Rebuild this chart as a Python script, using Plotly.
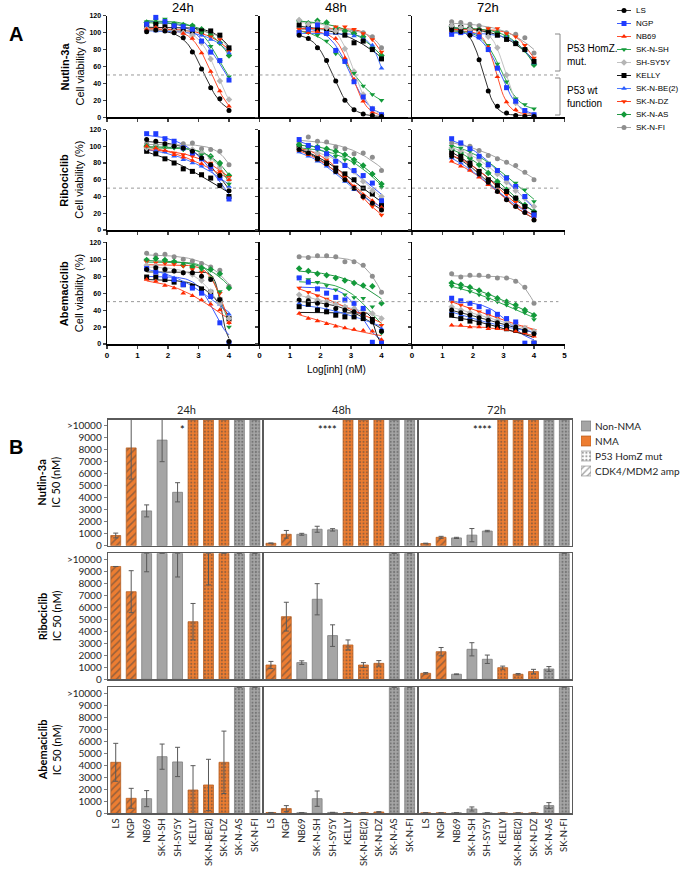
import numpy as np
import plotly.graph_objects as go

W, H = 685, 877
def px(x): return x / W
def py(y): return 1 - y / H

# ---------------- data ----------------
LOG_CONC = [1.3, 1.6, 1.9, 2.2, 2.5, 2.8, 3.1, 3.4, 3.7, 4.0]
CELLS = ['LS', 'NGP', 'NB69', 'SK-N-SH', 'SH-SY5Y', 'KELLY', 'SK-N-BE(2)', 'SK-N-DZ', 'SK-N-AS', 'SK-N-FI']
DRUGS = ['Nutlin-3a', 'Ribociclib', 'Abemaciclib']
TIMES = ['24h', '48h', '72h']
NMA = [1, 1, 0, 0, 0, 1, 1, 1, 0, 0]
GENO = ['amp', 'amp', '', '', '', 'mut', 'mut', 'mut', 'mut', 'mut']

# cell viability (%) rows follow CELLS, columns follow LOG_CONC
NUT_24 = [[101,103,102,100,94,77,57,35,22,8],[110,118,113,108,107,104,90,77,67,44],[104,106,103,101,99,93,76,54,31,13],
          [113,115,116,111,109,108,100,84,66,48],[105,104,103,102,100,97,88,69,43,21],[108,110,107,106,103,102,102,102,97,82],
          [103,102,102,101,100,99,97,92,88,76],[107,104,105,103,102,100,98,95,92,78],[112,111,113,110,109,108,104,97,88,73],
          [104,103,104,103,102,101,101,99,95,80]]
NUT_48 = [[97,93,82,67,43,20,9,4,2,1],[100,104,109,99,79,66,42,24,10,3],[102,100,101,98,93,70,45,19,6,2],
          [101,100,97,90,75,66,52,37,27,20],[115,110,111,106,102,81,54,27,10,3],[109,106,104,102,101,97,88,90,80,69],
          [100,101,100,99,99,97,96,92,85,58],[104,103,105,104,107,107,104,99,92,77],[114,111,114,112,105,102,99,95,82,73],
          [106,104,103,104,103,102,101,100,95,82]]
NUT_72 = [[103,101,97,68,31,13,5,2,1,1],[98,100,99,95,80,58,35,19,8,3],[102,101,100,99,83,48,18,9,4,2],
          [103,101,99,95,85,63,42,22,15,10],[108,106,104,100,95,82,50,17,6,3],[107,106,104,102,100,97,92,87,80,66],
          [100,100,99,99,98,96,94,88,80,64],[103,102,104,103,105,105,99,95,85,70],[107,106,105,103,102,100,96,88,80,62],
          [113,112,110,108,104,101,100,98,94,76]]
RIB_24 = [[108,106,103,100,98,94,86,78,65,47],[115,115,109,106,98,92,85,76,62,37],[100,98,95,90,87,83,79,74,68,60],
          [100,99,99,98,96,94,90,87,78,55],[98,100,100,99,98,96,92,86,75,60],[94,91,85,80,73,70,66,62,53,40],
          [96,95,93,88,84,80,76,72,64,52],[97,96,94,92,90,88,85,80,70,63],[100,100,99,99,97,95,92,88,80,65],
          [103,102,101,102,103,104,97,96,94,78]]
RIB_48 = [[96,92,85,79,70,60,50,40,32,24],[108,101,98,91,82,77,71,65,56,35],[95,90,84,78,70,62,52,42,35,27],
          [100,98,96,92,88,84,80,76,66,51],[97,95,92,88,83,78,70,58,47,40],[98,93,85,80,74,67,60,50,43,30],
          [93,88,82,76,68,58,48,40,33,28],[98,95,90,84,75,63,52,38,28,18],[102,100,99,97,94,90,84,77,67,55],
          [104,111,106,105,99,97,91,92,87,71]]
RIB_72 = [[88,84,77,67,57,46,36,28,21,12],[109,104,97,88,78,71,62,52,40,18],[82,76,71,63,54,46,36,28,21,13],
          [100,98,94,88,80,72,64,56,48,34],[98,95,90,84,76,67,57,47,38,28],[92,88,80,70,60,53,46,38,28,20],
          [86,80,72,64,55,46,38,30,23,16],[90,85,78,70,61,51,42,33,25,15],[96,92,86,78,68,58,48,38,30,22],
          [104,103,100,95,89,85,81,77,69,60]]
ABE_24 = [[88,90,88,86,84,84,80,76,52,3],[89,85,80,76,70,66,60,56,25,1],[76,74,69,66,60,57,52,47,40,25],
          [99,100,98,97,95,92,88,78,62,20],[93,92,89,86,84,82,75,62,48,30],[79,79,76,73,70,68,65,61,52,30],
          [90,86,82,78,72,68,62,56,47,35],[97,96,95,94,92,88,85,78,60,25],[99,101,99,97,93,91,90,88,83,66],
          [107,105,106,103,100,98,95,91,87,68]]
ABE_48 = [[52,51,48,46,42,40,38,35,26,15],[78,73,65,60,55,52,48,42,2,1],[36,30,27,24,21,19,17,16,15,5],
          [78,76,73,69,64,58,55,54,44,13],[58,55,52,50,47,44,42,40,36,30],[44,47,40,38,34,32,32,30,29,1],
          [48,45,42,40,38,35,33,31,27,18],[66,61,57,53,48,44,40,36,30,22],[89,86,83,81,78,75,72,69,68,48],
          [103,102,104,104,103,97,97,93,80,61]]
ABE_72 = [[40,37,34,31,28,25,22,20,16,12],[54,51,48,44,38,35,30,26,1,1],[22,22,20,20,18,18,17,15,13,9],
          [68,66,62,58,53,50,46,42,37,29],[44,40,37,34,31,28,25,22,19,15],[34,30,27,25,22,20,18,16,15,1],
          [38,34,31,28,25,23,20,18,16,14],[50,46,42,38,34,31,28,24,20,16],[72,70,67,63,58,54,50,46,40,34],
          [83,79,81,81,80,78,78,74,67,48]]

# IC50 (nM); None = ">10000"
NUT_IC50_24 = [850, 8150, 2900, 8800, 4450, None, None, None, None, None]
NUT_ERR_24 = [200, 2600, 500, 1800, 800, 0, 0, 0, 0, 0]
NUT_IC50_48 = [200, 950, 950, 1370, 1320, None, None, None, None, None]
NUT_ERR_48 = [30, 320, 80, 250, 100, 0, 0, 0, 0, 0]
NUT_IC50_72 = [180, 700, 650, 880, 1220, None, None, None, None, None]
NUT_ERR_72 = [30, 80, 50, 550, 60, 0, 0, 0, 0, 0]
RIB_IC50_24 = [9400, 7300, None, None, None, 4800, None, None, None, None]
RIB_ERR_24 = [0, 1750, 1540, 0, 1975, 1520, 2640, 0, 0, 0]
RIB_IC50_48 = [1190, 5220, 1390, 6670, 3640, 2860, 1190, 1330, None, None]
RIB_ERR_48 = [300, 1200, 150, 1300, 900, 420, 200, 230, 0, 0]
RIB_IC50_72 = [500, 2300, 420, 2500, 1670, 970, 420, 640, 860, None]
RIB_ERR_72 = [60, 350, 30, 550, 350, 130, 60, 190, 200, 0]
ABE_IC50_24 = [4250, 1250, 1220, 4720, 4280, 1940, 2360, 4250, None, None]
ABE_ERR_24 = [1580, 830, 670, 1050, 1220, 2030, 2140, 2600, 0, 0]
ABE_IC50_48 = [60, 390, 50, 1220, 70, 50, 50, 110, None, None]
ABE_ERR_48 = [10, 250, 10, 640, 10, 10, 10, 30, 0, 0]
ABE_IC50_72 = [40, 40, 40, 360, 30, 30, 30, 30, 640, None]
ABE_ERR_72 = [10, 10, 10, 170, 10, 10, 10, 10, 250, 0]

B_YTICKS = [0, 1000, 2000, 3000, 4000, 5000, 6000, 7000, 8000, 9000, 10000]
B_YTEXT = ['0', '1000', '2000', '3000', '4000', '5000', '6000', '7000', '8000', '9000', '>10000']
STARS = {(0, 0): '*', (0, 1): '****', (0, 2): '****'}
LEG_B = ['Non-NMA', 'NMA', 'P53 HomZ mut', 'CDK4/MDM2 amp']

VIAB = [[NUT_24, NUT_48, NUT_72], [RIB_24, RIB_48, RIB_72], [ABE_24, ABE_48, ABE_72]]
IC50 = [[(NUT_IC50_24, NUT_ERR_24), (NUT_IC50_48, NUT_ERR_48), (NUT_IC50_72, NUT_ERR_72)],
        [(RIB_IC50_24, RIB_ERR_24), (RIB_IC50_48, RIB_ERR_48), (RIB_IC50_72, RIB_ERR_72)],
        [(ABE_IC50_24, ABE_ERR_24), (ABE_IC50_48, ABE_ERR_48), (ABE_IC50_72, ABE_ERR_72)]]

# ---------------- styles ----------------
COLORS = ['#000000', '#1f3cff', '#ff2a00', '#139a3a', '#b5b5b5', '#000000', '#2a5cff', '#ff3300', '#139a3a', '#8e8e8e']
LCOLORS = ['#333333', '#3b5bff', '#ff5030', '#2fa850', '#c2c2c2', '#1a1a1a', '#4a78ff', '#ff4020', '#249845', '#a5a5a5']
SYMBOLS = ['circle', 'square', 'triangle-up', 'triangle-down', 'diamond', 'square', 'triangle-up', 'triangle-down', 'diamond', 'circle']
FA = 'Liberation Sans, Arial, sans-serif'
FB = 'Lato, Open Sans, sans-serif'
A_COLX = [(107, 259.5), (259.5, 412), (412, 564.5)]
A_ROWY = [(15.7, 117.3), (129.5, 230), (242.3, 344)]
B_COLX = [(108, 262.6), (263.2, 417.4), (418.0, 572)]
B_ROWY = [(419.7, 545.7), (553.3, 679.3), (687.3, 813.3)]
OVER_CAP = 10500

# ---------------- 4-parameter logistic fit (least squares grid) ----------------
_cg = np.arange(0.5, 8.0, 0.02)
_hg = np.arange(0.2, 6.0, 0.05)
_C, _Hh = [g.ravel()[:, None] for g in np.meshgrid(_cg, _hg)]
_X = np.asarray(LOG_CONC)[None, :]
_S = 1.0 / (1.0 + 10.0 ** ((_X - _C) * _Hh))
_Sm = _S.mean(axis=1)
_dS = _S - _Sm[:, None]
_Svar = (_dS ** 2).sum(axis=1)
_SS = (_S * _S).sum(axis=1)

def fit_curve(y):
    y = np.asarray(y, float)
    ym = y.mean()
    a = (_dS * (y - ym)).sum(1) / np.maximum(_Svar, 1e-12)
    b = ym - a * _Sm
    a0 = (_S * y).sum(1) / np.maximum(_SS, 1e-12)
    neg = b < 0
    a = np.where(neg, a0, a)
    b = np.where(neg, 0.0, b)
    sse = (((b[:, None] + a[:, None] * _S) - y) ** 2).sum(1)
    k = int(np.argmin(sse))
    xs = np.linspace(LOG_CONC[0], LOG_CONC[-1], 60)
    ys = b[k] + a[k] / (1 + 10 ** ((xs - _C[k, 0]) * _Hh[k, 0]))
    return xs, ys

fig = go.Figure()
layout = {}
annotations = []
shapes = []

def ann(text, x, y, size, family, color='black', angle=0, xanchor='center', yref='paper', align='center'):
    annotations.append(dict(text=text, x=px(x), y=(py(y) if yref == 'paper' else y), xref='paper', yref=yref,
                            xanchor=xanchor, yanchor='middle', textangle=angle, showarrow=False, align=align,
                            font=dict(family=family, size=size, color=color)))

def axn(k):
    return '' if k == 1 else str(k)

# ---------------- panel A ----------------
for r in range(3):
    for c in range(3):
        k = r * 3 + c + 1
        s = axn(k)
        tv = [0, 1, 2, 3, 4, 5] if c == 2 else [0, 1, 2, 3, 4]
        layout['xaxis' + s] = dict(domain=[px(A_COLX[c][0]), px(A_COLX[c][1])], anchor='y' + s, range=[0, 5],
                                   showline=True, linecolor='black', linewidth=1.5, ticks='outside', ticklen=3,
                                   tickwidth=1.2, tickvals=tv, showticklabels=(r == 2), showgrid=False, zeroline=False,
                                   automargin=False, tickfont=dict(family=FA, size=8, color='black', weight='bold'))
        layout['yaxis' + s] = dict(domain=[py(A_ROWY[r][1]), py(A_ROWY[r][0])], anchor='x' + s, range=[0, 120],
                                   showline=True, linecolor='black', linewidth=1.5, ticks='outside', ticklen=3,
                                   tickwidth=1.2, tickvals=[0, 20, 40, 60, 80, 100, 120], showticklabels=(c == 0),
                                   showgrid=False, zeroline=False, automargin=False,
                                   tickfont=dict(family=FA, size=7, color='black', weight='bold'))
        shapes.append(dict(type='line', xref='x' + s, yref='y' + s, x0=0, x1=4.8, y0=50, y1=50,
                           line=dict(color='#9a9a9a', width=1, dash='dot')))
        data = VIAB[r][c]
        for i in range(len(CELLS)):
            xs, ys = fit_curve(data[i])
            fig.add_trace(go.Scatter(x=xs, y=ys, mode='lines', line=dict(color=LCOLORS[i], width=1),
                                     xaxis='x' + s, yaxis='y' + s, showlegend=False, hoverinfo='skip'))
        for i in reversed(range(len(CELLS))):
            fig.add_trace(go.Scatter(x=LOG_CONC, y=data[i], mode='markers', cliponaxis=False,
                                     marker=dict(symbol=SYMBOLS[i], size=5, color=COLORS[i]),
                                     xaxis='x' + s, yaxis='y' + s, showlegend=False, name=CELLS[i]))
    yc = (A_ROWY[r][0] + A_ROWY[r][1]) / 2
    ann('<b>' + DRUGS[r] + '</b>', 64, yc, 11, FA, angle=-90)
    ann('Cell viability (%)', 79, yc, 11, FA, angle=-90)

for c in range(3):
    ann(TIMES[c], (A_COLX[c][0] + A_COLX[c][1]) / 2, 8, 13, FA)
ann('Log[inh] (nM)', 336, 369, 10, FA)
ann('<b>A</b>', 16, 34, 20, FA)
ann('<b>B</b>', 16, 447, 20, FA)

# P53 brackets
for (y0, y1, txt, ty) in [(34, 71, 'P53 HomZ.<br>mut.', 55), (78, 115, 'P53 wt<br>function', 97)]:
    for seg in [(560, y0, 560, y1), (555, y0, 560, y0), (555, y1, 560, y1)]:
        shapes.append(dict(type='line', xref='paper', yref='paper', x0=px(seg[0]), y0=py(seg[1]),
                           x1=px(seg[2]), y1=py(seg[3]), line=dict(color='#888888', width=1)))
    ann(txt, 565, ty, 10, FA, xanchor='left', align='left')

# legend A (manual)
layout['xaxis20'] = dict(domain=[px(617), px(631)], anchor='y20', range=[0, 1], visible=False, automargin=False)
layout['yaxis20'] = dict(domain=[py(134), py(4)], anchor='x20', range=[len(CELLS) - 0.5, -0.5], visible=False,
                         automargin=False)
for i, name in enumerate(CELLS):
    fig.add_trace(go.Scatter(x=[0, 1], y=[i, i], mode='lines', line=dict(color=LCOLORS[i], width=1),
                             xaxis='x20', yaxis='y20', showlegend=False, hoverinfo='skip'))
    fig.add_trace(go.Scatter(x=[0.5], y=[i], mode='markers', marker=dict(symbol=SYMBOLS[i], size=5, color=COLORS[i]),
                             xaxis='x20', yaxis='y20', showlegend=False, hoverinfo='skip', cliponaxis=False))
    ann(name, 634, i, 8, FA, xanchor='left', yref='y20')

# ---------------- panel B ----------------
for r in range(3):
    for c in range(3):
        k = 10 + r * 3 + c
        s = str(k)
        layout['xaxis' + s] = dict(domain=[px(B_COLX[c][0]), px(B_COLX[c][1])], anchor='y' + s, type='category',
                                   categoryorder='array', categoryarray=CELLS, range=[-0.5, len(CELLS) - 0.5],
                                   showline=True, mirror=True, linecolor='#5a5a5a', linewidth=1.3, ticks='',
                                   showticklabels=(r == 2), tickangle=-90, showgrid=False, zeroline=False,
                                   automargin=False, tickfont=dict(family=FB, size=9.5, color='#262626'))
        layout['yaxis' + s] = dict(domain=[py(B_ROWY[r][1]), py(B_ROWY[r][0])], anchor='x' + s, range=[0, OVER_CAP],
                                   showline=True, mirror=True, linecolor='#5a5a5a', linewidth=1.3,
                                   ticks='outside' if c == 0 else '', ticklen=3, tickcolor='#7f7f7f',
                                   tickvals=B_YTICKS, ticktext=B_YTEXT, showticklabels=(c == 0), showgrid=False,
                                   zeroline=False, automargin=False, tickfont=dict(family=FB, size=10, color='#262626'))
        vals, errs = IC50[r][c]
        yv = [v if v is not None else OVER_CAP for v in vals]
        plus = [e if v is not None else 0 for v, e in zip(vals, errs)]
        minus = list(errs)
        fill = ['#ED7D31' if m else '#A5A5A5' for m in NMA]
        edge = ['#B85F22' if m else '#7F7F7F' for m in NMA]
        shp = ['/' if g == 'amp' else ('.' if g == 'mut' else '') for g in GENO]
        fgc = ['#1a1a1a' if m else '#333333' for m in NMA]
        psize = [5 if g == 'amp' else 3.4 for g in GENO]
        psol = [0.32 if g == 'amp' else 0.3 for g in GENO]
        fig.add_trace(go.Bar(x=CELLS, y=yv, width=0.64, xaxis='x' + s, yaxis='y' + s, showlegend=False,
                             marker=dict(color=fill, line=dict(color=edge, width=0.8),
                                         pattern=dict(shape=shp, fgcolor=fgc, size=psize, solidity=psol)),
                             error_y=dict(type='data', symmetric=False, array=plus, arrayminus=minus,
                                          color='#595959', thickness=1, width=2.5)))
        if (r, c) in STARS:
            ann(STARS[(r, c)], {0: 183, 1: 327, 2: 482}[c], 430, 11, FB)
    yc = (B_ROWY[r][0] + B_ROWY[r][1]) / 2
    ann('<b>' + DRUGS[r] + '</b>', 42, yc, 11, FB, angle=-90)
    ann('IC 50 (nM)', 56, yc, 11, FB, angle=-90)
for c in range(3):
    ann(TIMES[c], (B_COLX[c][0] + B_COLX[c][1]) / 2 + 1, 409, 11, FB, color='#262626')

# legend B (manual)
layout['xaxis19'] = dict(domain=[px(581), px(591)], anchor='y19', range=[0, 1], visible=False, automargin=False)
layout['yaxis19'] = dict(domain=[py(478.5), py(418.5)], anchor='x19', range=[len(LEG_B) - 0.5, -0.5], visible=False,
                         automargin=False)
fig.add_trace(go.Bar(x=[1] * len(LEG_B), y=list(range(len(LEG_B))), orientation='h', width=0.66,
                     xaxis='x19', yaxis='y19', showlegend=False, hoverinfo='skip',
                     marker=dict(color=['#A5A5A5', '#ED7D31', 'white', 'white'],
                                 line=dict(color=['#7F7F7F', '#B85F22', '#9a9a9a', '#9a9a9a'], width=0.8),
                                 pattern=dict(shape=['', '', '.', '/'], fgcolor='#777777', size=[4, 4, 3.6, 4.5],
                                              solidity=0.3))))
for i, name in enumerate(LEG_B):
    ann(name, 593, i, 10, FB, color='#262626', xanchor='left', yref='y19')

fig.update_layout(width=W, height=H, margin=dict(l=0, r=0, t=0, b=0, autoexpand=False), paper_bgcolor='white',
                  plot_bgcolor='rgba(0,0,0,0)', showlegend=False, annotations=annotations, shapes=shapes,
                  bargap=0.3, hovermode=False, **layout)
fig.write_html('out.html', config={'displayModeBar': False, 'staticPlot': True},
               post_script="document.body.style.margin='0px';document.body.style.overflow='hidden';")
